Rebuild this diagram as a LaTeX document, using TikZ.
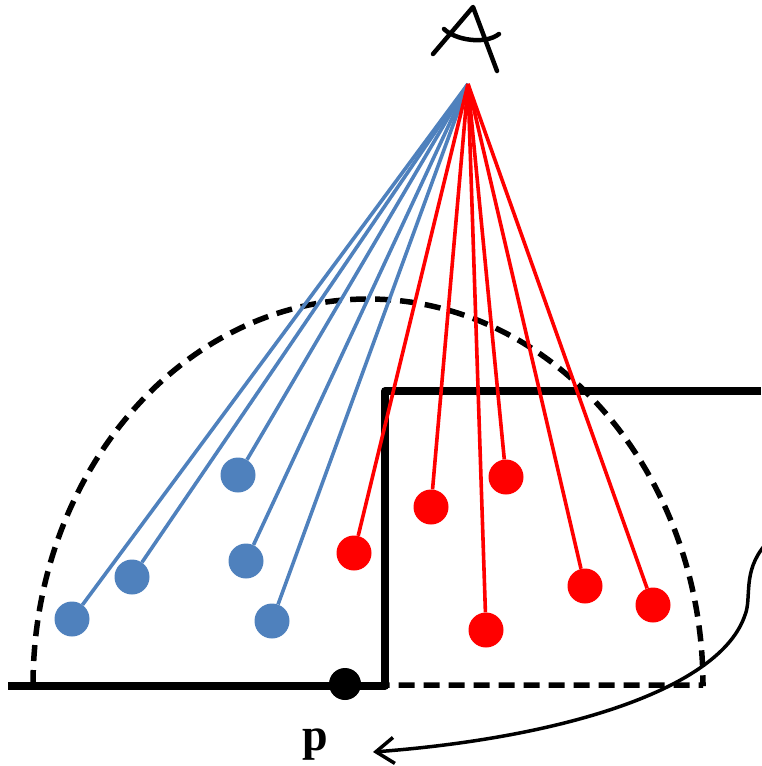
\documentclass[tikz,border=0pt]{standalone}
\usepackage{fontspec}
\setmainfont{Liberation Serif}
\usetikzlibrary{arrows.meta}
\definecolor{myblue}{HTML}{4F81BD}
\definecolor{myred}{HTML}{FF0000}
\tikzset{
  bluedot/.style={circle,fill=myblue,inner sep=0pt,minimum size=35pt},
  reddot/.style={circle,fill=myred,inner sep=0pt,minimum size=35pt},
  blueline/.style={myblue,line width=3.6pt},
  redline/.style={myred,line width=3.6pt},
  wall/.style={line width=7.5pt,line join=round},
  dashline/.style={line width=5.5pt,dash pattern=on 16pt off 9pt},
}
\begin{document}
\begin{tikzpicture}[x=1pt,y=-1pt]
\useasboundingbox (0,0) rectangle (761,766);
% hand-drawn A
\draw[line width=4.5pt,line cap=round,line join=round] (433,54) -- (473,7) -- (497,71);
\draw[line width=4.5pt,line cap=round] (444,29) .. controls (455,40) and (485,45) .. (499,34);
\coordinate (apex) at (468,84);
% dashed arc
\draw[dashline] (33,686) arc[start angle=180,end angle=360,x radius=335,y radius=387] -- (703,685) -- (385,685);
% walls
\draw[wall] (8,686) -- (385,686) -- (385,391) -- (761,391);
% dots
\node[bluedot] (b1) at (72,619) {};
\node[bluedot] (b2) at (132,577) {};
\node[bluedot] (b3) at (238,475) {};
\node[bluedot] (b4) at (246,561) {};
\node[bluedot] (b5) at (272,621) {};
\node[reddot] (r1) at (354,553) {};
\node[reddot] (r2) at (431,507) {};
\node[reddot] (r3) at (506,477) {};
\node[reddot] (r4) at (486,630) {};
\node[reddot] (r5) at (585,586) {};
\node[reddot] (r6) at (653,605) {};
\foreach \n in {b1,b2,b3,b4,b5} \draw[blueline] (apex) -- (\n);
\foreach \n in {r1,r2,r3,r4,r5,r6} \draw[redline] (apex) -- (\n);
% point p
\node[circle,fill=black,inner sep=0pt,minimum size=32pt] (pdot) at (345,684) {};
\node[inner sep=0pt,font=\fontsize{46}{46}\selectfont\bfseries] (plabel) at (315,745) {p};
% curved arrow
\coordinate (cstart) at (765,545);
\coordinate (cend) at (373,752);
\draw[line width=3.5pt,-{Straight Barb[length=18pt,width=26pt,line width=3.5pt]}] (cstart) .. controls (742,572) and (752,598) .. (745,615) .. controls (720,690) and (560,738) .. (cend);
\end{tikzpicture}
\end{document}
